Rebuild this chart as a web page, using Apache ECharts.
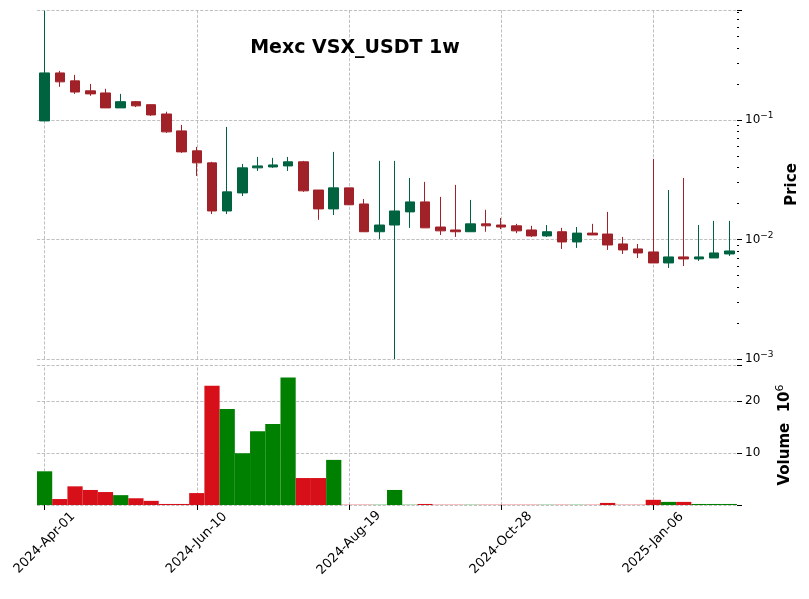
<!DOCTYPE html>
<html>
<head>
<meta charset="utf-8">
<script src="https://cdn.jsdelivr.net/npm/echarts@6/dist/echarts.min.js"></script>
<style>html,body{margin:0;padding:0;background:#fff}#chart{width:809px;height:599px}</style>
</head>
<body>
<div id="chart"></div>
<script>
// weekly candles, [open, close, low, high]
const startDate = '2024-04-01';
const weeks = 46;
const candles = [
    [0.098, 0.247, 0.098, 0.817], [0.247, 0.208, 0.189, 0.257], [0.212, 0.171, 0.165, 0.238],
    [0.175, 0.165, 0.159, 0.200], [0.168, 0.126, 0.126, 0.182], [0.126, 0.142, 0.126, 0.165],
    [0.142, 0.131, 0.128, 0.144], [0.134, 0.110, 0.108, 0.134], [0.112, 0.0794, 0.0778, 0.117],
    [0.0809, 0.0540, 0.0530, 0.0908], [0.0551, 0.0437, 0.0340, 0.0594], [0.0437, 0.0173, 0.0163, 0.0446],
    [0.0173, 0.0250, 0.0163, 0.0873], [0.0245, 0.0397, 0.0231, 0.0428], [0.0397, 0.0412, 0.0374, 0.0490],
    [0.0404, 0.0420, 0.0397, 0.0481], [0.0412, 0.0446, 0.0374, 0.0490], [0.0446, 0.0255, 0.0250, 0.0454],
    [0.0259, 0.0180, 0.0146, 0.0259], [0.0180, 0.0270, 0.0160, 0.0540], [0.0270, 0.0195, 0.0195, 0.0270],
    [0.0198, 0.0116, 0.0116, 0.0218], [0.0116, 0.0132, 0.0101, 0.0454], [0.0132, 0.0173, 0.0010, 0.0454],
    [0.0170, 0.0206, 0.0125, 0.0327], [0.0206, 0.0125, 0.0125, 0.0303], [0.0127, 0.0118, 0.0109, 0.0227],
    [0.0120, 0.0116, 0.0105, 0.0286], [0.0116, 0.0135, 0.0116, 0.0214], [0.0135, 0.0130, 0.0116, 0.0177],
    [0.0132, 0.0127, 0.0122, 0.0151], [0.0130, 0.0118, 0.0113, 0.0135], [0.0120, 0.0107, 0.0105, 0.0130],
    [0.0107, 0.0116, 0.0105, 0.0132], [0.0116, 0.00953, 0.00833, 0.0125], [0.00953, 0.0113, 0.00849, 0.0127],
    [0.0113, 0.0109, 0.0109, 0.0135], [0.0111, 0.00899, 0.00817, 0.0170], [0.00917, 0.00817, 0.00756, 0.0105],
    [0.00833, 0.00771, 0.00700, 0.00917], [0.00786, 0.00636, 0.00636, 0.0472], [0.00636, 0.00714, 0.00578, 0.0259],
    [0.00714, 0.00687, 0.00600, 0.0327], [0.00687, 0.00714, 0.00661, 0.0132], [0.00700, 0.00771, 0.00700, 0.0143],
    [0.00756, 0.00801, 0.00728, 0.0143]
];
// volume in millions
const volumes = [
    6.5, 1.15, 3.6, 2.9, 2.5, 1.9, 1.3, 0.8, 0.2, 0.2,
    2.3, 23, 18.5, 10, 14.2, 15.6, 24.6, 5.2, 5.2, 8.7,
    0.05, 0.05, 0.05, 2.9, 0.05, 0.2, 0.05, 0.05, 0.05, 0.05,
    0.05, 0.05, 0.05, 0.05, 0.05, 0.05, 0.05, 0.4, 0.05, 0.05,
    1.0, 0.6, 0.6, 0.2, 0.2, 0.2
];
const priceTicks = [0.001, 0.01, 0.1];
const volTicks = [10, 20];

const months = ['Jan','Feb','Mar','Apr','May','Jun','Jul','Aug','Sep','Oct','Nov','Dec'];
const dates = [];
for (let i = 0; i < weeks; i++) {
    const d = new Date(startDate + 'T00:00:00Z');
    d.setUTCDate(d.getUTCDate() + 7 * i);
    dates.push(d.getUTCFullYear() + '-' + months[d.getUTCMonth()] + '-' + String(d.getUTCDate()).padStart(2, '0'));
}
const labelDates = dates.filter((d, i) => i % 10 === 0);

const upC = '#006340', downC = '#a02128';
const volUp = '#008000', volDown = '#d70f19';
const font = 'DejaVu Sans';
const gridStyle = {color: '#b0b0b0', type: 'dashed', width: 0.8};

// vertical grid lines through the candle centres
const vLines = {
    silent: true, symbol: 'none', label: {show: false}, lineStyle: gridStyle,
    emphasis: {disabled: true}, animation: false, z: 0,
    data: labelDates.map(d => ({xAxis: d}))
};

const chart = echarts.init(document.getElementById('chart'));
chart.setOption({
    animation: false,
    textStyle: {fontFamily: font},
    title: {
        text: 'Mexc VSX_USDT 1w', left: 350, top: 34, textAlign: 'center',
        textStyle: {fontFamily: font, fontSize: 19, fontWeight: 'bold', color: '#000'}
    },
    grid: [
        {left: 37, right: 72, top: 10, height: 349, outerBoundsMode: 'none', containLabel: false},
        {left: 37, right: 72, top: 365, height: 140, outerBoundsMode: 'none', containLabel: false}
    ],
    xAxis: [
        {
            type: 'category', gridIndex: 0, data: dates, boundaryGap: true,
            axisLine: {show: false}, axisTick: {show: false}, axisLabel: {show: false},
            splitLine: {show: false}
        },
        {
            type: 'category', gridIndex: 1, data: dates, boundaryGap: true,
            axisLine: {show: false},
            axisTick: {show: true, alignWithLabel: true, interval: i => i % 10 === 0, lineStyle: {color: '#000'}},
            axisLabel: {interval: i => i % 10 === 0, rotate: 45, fontSize: 13, color: '#000', fontFamily: font,
                align: 'center', verticalAlign: 'middle', margin: 38},
            splitLine: {show: false}
        }
    ],
    yAxis: [
        {
            type: 'log', gridIndex: 0, position: 'right', min: 0.001, max: 0.83, logBase: 10,
            name: 'Price', nameLocation: 'middle', nameRotate: 90, nameGap: 42,
            nameTextStyle: {fontFamily: font, fontSize: 15, fontWeight: 'bold', color: '#000'},
            axisLine: {show: false},
            axisTick: {show: true, lineStyle: {color: '#000'}},
            minorTick: {show: true, splitNumber: 9, length: 2, lineStyle: {color: '#000'}},
            axisLabel: {
                color: '#000', fontSize: 12, fontFamily: font, showMaxLabel: false,
                formatter: v => {
                    const p = priceTicks.find(t => Math.abs(t - v) / t < 1e-6);
                    return p ? '10{s|−' + Math.round(-Math.log10(p)) + '}' : '';
                },
                rich: {s: {fontSize: 9, verticalAlign: 'top', padding: [0, 0, 8, 0], color: '#000'}}
            },
            splitLine: {show: true, lineStyle: gridStyle}
        },
        {
            type: 'value', gridIndex: 1, position: 'right', min: 0, max: 27, interval: 10,
            name: 'Volume  10{s|6}', nameLocation: 'middle', nameRotate: 90, nameGap: 38,
            nameTextStyle: {fontFamily: font, fontSize: 15, fontWeight: 'bold', color: '#000',
                rich: {s: {fontSize: 11, fontWeight: 'normal', verticalAlign: 'top', padding: [0, 0, 10, 0]}}},
            axisLine: {show: false},
            axisTick: {show: true, lineStyle: {color: '#000'}},
            axisLabel: {
                color: '#000', fontSize: 12, fontFamily: font,
                formatter: v => volTicks.includes(v) ? String(v) : ''
            },
            splitLine: {show: true, lineStyle: gridStyle}
        }
    ],
    series: [
        {
            type: 'candlestick', xAxisIndex: 0, yAxisIndex: 0, data: candles, barWidth: '66%',
            itemStyle: {color: upC, color0: downC, borderColor: upC, borderColor0: downC, borderWidth: 1},
            markLine: vLines
        },
        {
            type: 'bar', xAxisIndex: 1, yAxisIndex: 1, barWidth: '100%', barCategoryGap: 0,
            data: volumes.map((v, i) => ({
                value: v,
                itemStyle: {color: candles[i][1] >= candles[i][0] ? volUp : volDown}
            })),
            markLine: vLines
        }
    ]
});
</script>
</body>
</html>
